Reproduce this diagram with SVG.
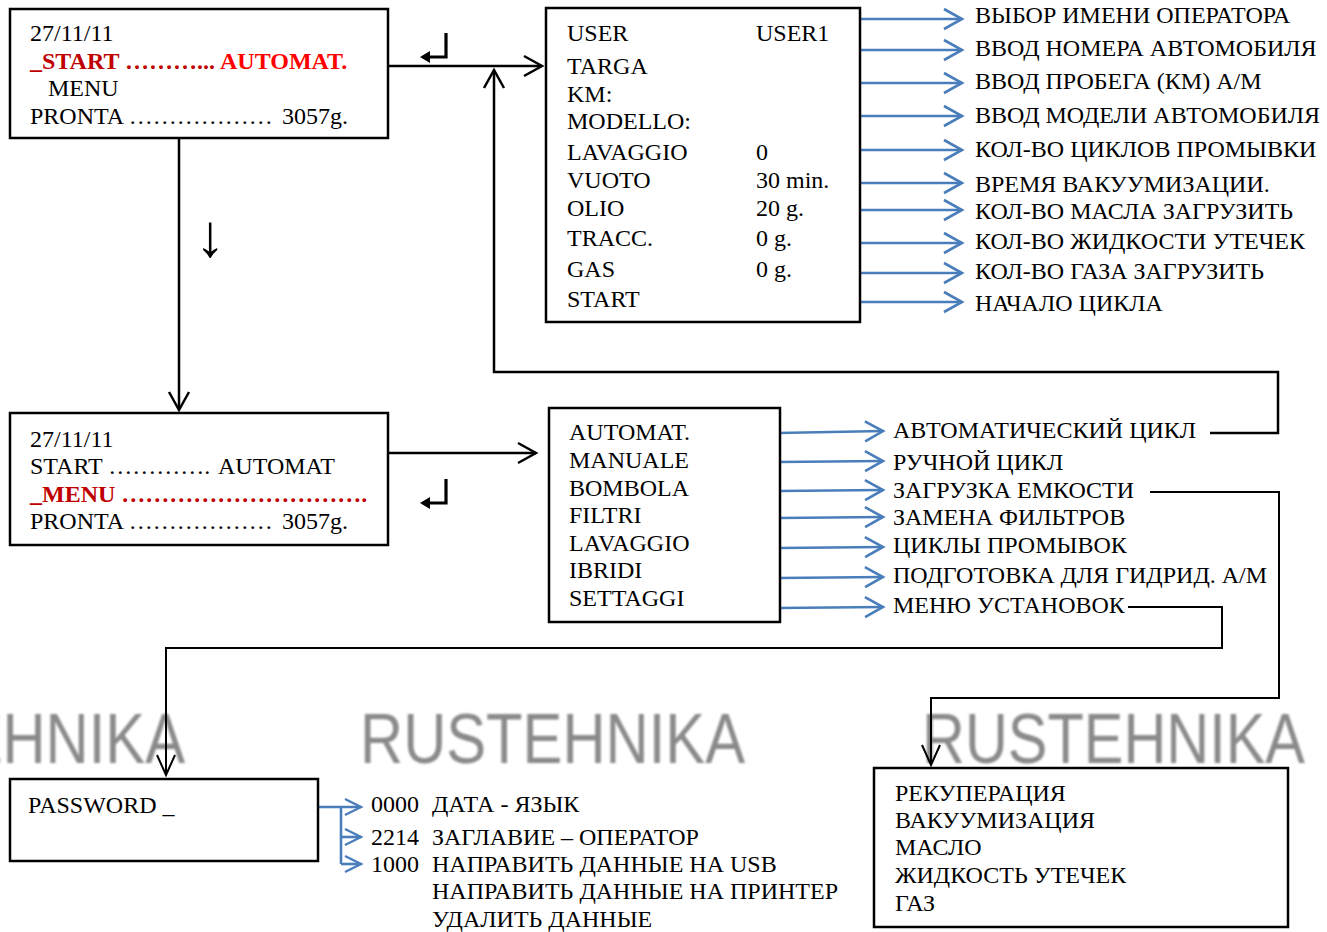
<svg xmlns="http://www.w3.org/2000/svg" width="1327" height="932" viewBox="0 0 1327 932">
<style>
text{font-family:"Liberation Serif","Times New Roman",serif;font-size:24px;fill:#000}
.b{font-weight:bold}
.box{fill:#fff;stroke:#000;stroke-width:2.5}
.con{fill:none;stroke:#000;stroke-width:2.5}
.con2{fill:none;stroke:#000;stroke-width:2}
.ret{fill:none;stroke:#000;stroke-width:3.2}
.blue{fill:none;stroke:#4a7ebb;stroke-width:2.6}
.wm{font-family:"Liberation Sans",Arial,sans-serif;font-size:70px;fill:#8a8a8a}
</style>
<defs>
<marker id="ab" markerUnits="userSpaceOnUse" markerWidth="22" markerHeight="24" refX="19" refY="11" orient="auto" overflow="visible">
<path d="M1,1 L19,11 L1,21" fill="none" stroke="#000" stroke-width="2.5"/>
</marker>
<marker id="ab2" markerUnits="userSpaceOnUse" markerWidth="24" markerHeight="24" refX="21" refY="10" orient="auto" overflow="visible">
<path d="M1,1 L21,10 L1,19" fill="none" stroke="#000" stroke-width="2"/>
</marker>
<marker id="bl" markerUnits="userSpaceOnUse" markerWidth="22" markerHeight="24" refX="19" refY="11" orient="auto" overflow="visible">
<path d="M1,1 L19,11 L1,21" fill="none" stroke="#4a7ebb" stroke-width="2.6"/>
</marker>
<marker id="bls" markerUnits="userSpaceOnUse" markerWidth="20" markerHeight="20" refX="17" refY="9" orient="auto" overflow="visible">
<path d="M1,1 L17,9 L1,17" fill="none" stroke="#4a7ebb" stroke-width="2.4"/>
</marker>
<marker id="rh" markerUnits="userSpaceOnUse" markerWidth="14" markerHeight="14" refX="2" refY="6" orient="auto" overflow="visible">
<path d="M0,6 L10,0 L10,12 Z" fill="#000" transform="rotate(180 6 6)"/>
</marker>
<filter id="blur" x="-5%" y="-20%" width="110%" height="140%"><feGaussianBlur stdDeviation="0.9"/></filter>
</defs>

<g id="watermarks" filter="url(#blur)">
<text class="wm" x="-200" y="763" textLength="385" lengthAdjust="spacingAndGlyphs">RUSTEHNIKA</text>
<text class="wm" x="360" y="763" textLength="385" lengthAdjust="spacingAndGlyphs">RUSTEHNIKA</text>
<text class="wm" x="922" y="763" textLength="383" lengthAdjust="spacingAndGlyphs">RUSTEHNIKA</text>
</g>

<g id="connectors">
<path class="con" d="M388,66 H542" marker-end="url(#ab)"/>
<path class="con" d="M179,138 V410" marker-end="url(#ab)"/>
<path class="con" d="M1210,433 H1278 V372 H494 V70" marker-end="url(#ab)"/>
<path class="con" d="M388,453 H536" marker-end="url(#ab)"/>
<path class="con2" d="M1150,492 H1279 V698 H931 V765" marker-end="url(#ab2)"/>
<path class="con2" d="M1128,607 H1222 V648 H166 V775" marker-end="url(#ab2)"/>
<g id="blue-top">
<path class="blue" d="M858,19 H962" marker-end="url(#bl)"/>
<path class="blue" d="M858,50 H962" marker-end="url(#bl)"/>
<path class="blue" d="M858,83 H962" marker-end="url(#bl)"/>
<path class="blue" d="M858,116 H962" marker-end="url(#bl)"/>
<path class="blue" d="M858,150 H962" marker-end="url(#bl)"/>
<path class="blue" d="M858,183 H962" marker-end="url(#bl)"/>
<path class="blue" d="M858,210 H962" marker-end="url(#bl)"/>
<path class="blue" d="M858,243 H962" marker-end="url(#bl)"/>
<path class="blue" d="M858,273 H962" marker-end="url(#bl)"/>
<path class="blue" d="M858,302 H962" marker-end="url(#bl)"/>
</g>
<g id="blue-menu">
<path class="blue" d="M778,433 L883,431" marker-end="url(#bl)"/>
<path class="blue" d="M778,462 L883,461" marker-end="url(#bl)"/>
<path class="blue" d="M778,491 L883,490" marker-end="url(#bl)"/>
<path class="blue" d="M778,518 L883,517" marker-end="url(#bl)"/>
<path class="blue" d="M778,548 L883,547" marker-end="url(#bl)"/>
<path class="blue" d="M778,578 L883,577" marker-end="url(#bl)"/>
<path class="blue" d="M778,608 L883,607" marker-end="url(#bl)"/>
</g>
<g id="blue-password">
<path class="blue" d="M318,807 H361" marker-end="url(#bls)"/>
<path class="blue" d="M341,807 V864"/>
<path class="blue" d="M341,837 H361" marker-end="url(#bls)"/>
<path class="blue" d="M341,864 H361" marker-end="url(#bls)"/>
</g>
</g>

<g id="symbols">
<path class="ret" d="M446,33 V57 H430" marker-end="url(#rh)"/>
<path class="ret" d="M446,479 V503 H430" marker-end="url(#rh)"/>
<text x="195" y="256" style="font-size:60px">↓</text>
</g>

<g id="node-start">
<rect class="box" x="10" y="9" width="378" height="129"/>
<text x="30" y="41">27/11/11</text>
<text x="30" y="69" class="b"><tspan fill="#c00000">_START ………...</tspan><tspan x="220" fill="#ff0000">AUTOMAT.</tspan></text>
<text x="48" y="96">MENU</text>
<text x="30" y="124">PRONTA ………………<tspan x="282">3057g.</tspan></text>
</g>

<g id="node-auto">
<rect class="box" x="546" y="8" width="314" height="314"/>
<text x="567" y="41">USER</text><text x="756" y="41">USER1</text>
<text x="567" y="74">TARGA</text>
<text x="567" y="102">KM:</text>
<text x="567" y="129">MODELLO:</text>
<text x="567" y="160">LAVAGGIO</text><text x="756" y="160">0</text>
<text x="567" y="188">VUOTO</text><text x="756" y="188">30 min.</text>
<text x="567" y="216">OLIO</text><text x="756" y="216">20 g.</text>
<text x="567" y="246">TRACC.</text><text x="756" y="246">0 g.</text>
<text x="567" y="277">GAS</text><text x="756" y="277">0 g.</text>
<text x="567" y="307">START</text>
</g>

<g id="labels-auto">
<text x="975" y="23">ВЫБОР ИМЕНИ ОПЕРАТОРА</text>
<text x="975" y="56">ВВОД НОМЕРА АВТОМОБИЛЯ</text>
<text x="975" y="89">ВВОД ПРОБЕГА (КМ) А/М</text>
<text x="975" y="123">ВВОД МОДЕЛИ АВТОМОБИЛЯ</text>
<text x="975" y="157">КОЛ-ВО ЦИКЛОВ ПРОМЫВКИ</text>
<text x="975" y="192">ВРЕМЯ ВАКУУМИЗАЦИИ.</text>
<text x="975" y="219">КОЛ-ВО МАСЛА ЗАГРУЗИТЬ</text>
<text x="975" y="249">КОЛ-ВО ЖИДКОСТИ УТЕЧЕК</text>
<text x="975" y="279">КОЛ-ВО ГАЗА ЗАГРУЗИТЬ</text>
<text x="975" y="311">НАЧАЛО ЦИКЛА</text>
</g>

<g id="node-menu-screen">
<rect class="box" x="10" y="413" width="378" height="132"/>
<text x="30" y="447">27/11/11</text>
<text x="30" y="474">START ………….<tspan x="218">AUTOMAT</tspan></text>
<text x="30" y="502" class="b" style="fill:#c00000">_MENU ………………………….</text>
<text x="30" y="529">PRONTA ………………<tspan x="282">3057g.</tspan></text>
</g>

<g id="node-menu">
<rect class="box" x="549" y="408" width="231" height="214"/>
<text x="569" y="440">AUTOMAT.</text>
<text x="569" y="468">MANUALE</text>
<text x="569" y="496">BOMBOLA</text>
<text x="569" y="523">FILTRI</text>
<text x="569" y="551">LAVAGGIO</text>
<text x="569" y="578">IBRIDI</text>
<text x="569" y="606">SETTAGGI</text>
</g>

<g id="labels-menu">
<text x="893" y="438">АВТОМАТИЧЕСКИЙ ЦИКЛ</text>
<text x="893" y="470">РУЧНОЙ ЦИКЛ</text>
<text x="893" y="498">ЗАГРУЗКА ЕМКОСТИ</text>
<text x="893" y="525">ЗАМЕНА ФИЛЬТРОВ</text>
<text x="893" y="553">ЦИКЛЫ ПРОМЫВОК</text>
<text x="893" y="583">ПОДГОТОВКА ДЛЯ ГИДРИД. А/М</text>
<text x="893" y="613">МЕНЮ УСТАНОВОК</text>
</g>

<g id="node-password">
<rect class="box" x="10" y="779" width="308" height="82"/>
<text x="28" y="813">PASSWORD _</text>
</g>

<g id="labels-password">
<text x="371" y="812">0000</text><text x="432" y="812">ДАТА - ЯЗЫК</text>
<text x="371" y="845">2214</text><text x="432" y="845">ЗАГЛАВИЕ – ОПЕРАТОР</text>
<text x="371" y="872">1000</text><text x="432" y="872">НАПРАВИТЬ ДАННЫЕ НА USB</text>
<text x="432" y="899">НАПРАВИТЬ ДАННЫЕ НА ПРИНТЕР</text>
<text x="432" y="927">УДАЛИТЬ ДАННЫЕ</text>
</g>

<g id="node-bombola">
<rect class="box" x="874" y="768" width="414" height="159"/>
<text x="895" y="801">РЕКУПЕРАЦИЯ</text>
<text x="895" y="828">ВАКУУМИЗАЦИЯ</text>
<text x="895" y="855">МАСЛО</text>
<text x="895" y="883">ЖИДКОСТЬ УТЕЧЕК</text>
<text x="895" y="911">ГАЗ</text>
</g>
</svg>
